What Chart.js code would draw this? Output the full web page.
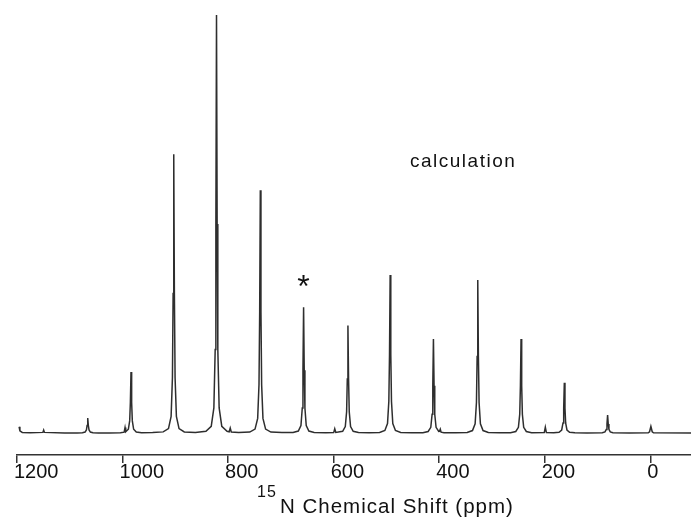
<!DOCTYPE html>
<html>
<head>
<meta charset="utf-8">
<style>
  html, body { margin: 0; padding: 0; background: #fff; }
  canvas { display: block; }
</style>
</head>
<body>
<canvas id="spectrum" width="691" height="523"></canvas>
<script src="https://cdn.jsdelivr.net/npm/chart.js@4.4.0/dist/chart.umd.min.js"></script>
<script>
// calculated 15N spectrum: chemical shift (ppm) and intensity, tallest sideband = 100
const shifts = [
  1196, 1194.5, 1190, 1175,
  1151, 1149.5, 1148, 1110,
  1086, 1076, 1071, 1068.5, 1067.2, 1066, 1064.8, 1063.5, 1061, 1056, 1046, 1025,
  1004, 997, 995.3, 994, 989, 986.5, 985.2, 984, 982.8, 981.5, 979, 974, 964, 943,
  923, 913, 908, 905.5, 904.2, 903, 901.8, 900.5, 898, 893, 883, 862,
  842, 832, 827, 824.5, 823.2, 822, 820.8, 819.5, 817, 812, 802, 798, 796, 794, 780,
  759, 749, 744, 741.5, 740.2, 739, 737.8, 736.5, 734, 729, 719, 698,
  677, 667, 662, 659.5, 658.2, 657, 655.8, 654.5, 652, 647, 637, 615, 600, 598, 596,
  583, 578, 575.5, 574.2, 573, 571.8, 570.5, 568, 563, 553, 533,
  513, 503, 498, 495.5, 494.2, 493, 491.8, 490.5, 488, 483, 473, 452,
  431, 421, 416, 413.5, 412.2, 411, 409.8, 408.5, 406, 401, 399.5, 398, 396.5, 391, 369,
  347, 337, 332, 329.5, 328.2, 327, 325.8, 324.5, 322, 317, 307, 286,
  265, 255, 250, 247.5, 246.2, 245, 243.8, 242.5, 240, 235, 225, 201, 199, 197,
  183, 173, 168, 165.5, 164.2, 163, 161.8, 160.5, 158, 153, 143, 120,
  91, 86, 83.5, 82.2, 81, 79.8, 78.5, 76, 71, 40,
  4, 1.5, -1, -3.5, -6, -77
];
const intensities = [
  1.5, 0.5, 0.15, 0.05,
  0.15, 0.7, 0.15, 0,
  0.02, 0.06, 0.22, 0.72, 1.8, 3.6, 1.8, 0.72, 0.22, 0.06, 0.02, 0.03,
  0.06, 0.2, 1.3, 0.3, 0.9, 2.9, 7.3, 14.6, 7.3, 2.9, 0.9, 0.23, 0.06, 0.1,
  0.27, 1.07, 4.0, 13.3, 33.4, 66.7, 33.4, 13.3, 4.0, 1.07, 0.27, 0.15,
  0.4, 1.6, 6, 20, 50, 100, 50, 20, 6, 1.6, 0.4, 0.3, 1.2, 0.25, 0.15,
  0.23, 0.93, 3.5, 11.6, 29, 58.1, 29, 11.6, 3.5, 0.93, 0.23, 0.1,
  0.12, 0.48, 1.8, 6.0, 15, 30.1, 15, 6.0, 1.8, 0.48, 0.12, 0.05, 0.1, 1.0, 0.12,
  0.41, 1.54, 5.1, 12.9, 25.7, 12.9, 5.1, 1.54, 0.41, 0.1, 0.06,
  0.15, 0.6, 2.27, 7.6, 18.9, 37.8, 18.9, 7.6, 2.27, 0.6, 0.15, 0.06,
  0.09, 0.36, 1.35, 4.5, 11.3, 22.5, 11.3, 4.5, 1.35, 0.36, 0.4, 0.9, 0.2, 0.09, 0.05,
  0.15, 0.59, 2.2, 7.3, 18.3, 36.6, 18.3, 7.3, 2.2, 0.59, 0.15, 0.05,
  0.09, 0.36, 1.35, 4.5, 11.3, 22.5, 11.3, 4.5, 1.35, 0.36, 0.09, 0.1, 1.4, 0.1,
  0.05, 0.19, 0.72, 2.4, 6, 12, 6, 2.4, 0.72, 0.19, 0.05, 0.02,
  0.07, 0.26, 0.86, 2.15, 4.3, 2.15, 0.86, 0.26, 0.07, 0.01,
  0.05, 0.3, 1.6, 0.3, 0.05, 0
];
const shiftTicks = [1200, 1000, 800, 600, 400, 200, 0];

// the sideband flagged with an asterisk
const markedShift = 657;
const markedIntensity = 30.1;

const fontFamily = '"Liberation Sans", Arial, sans-serif';

const textPlugin = {
  id: 'spectrumText',
  afterDraw(chart) {
    const ctx = chart.ctx;
    const xScale = chart.scales.x;
    const yScale = chart.scales.y;

    ctx.save();
    ctx.fillStyle = '#111';
    ctx.textBaseline = 'alphabetic';
    ctx.letterSpacing = '1.5px';

    ctx.font = '19px ' + fontFamily;
    ctx.textAlign = 'left';
    ctx.fillText('calculation', 410, 167);

    ctx.letterSpacing = '0px';
    ctx.font = '32px ' + fontFamily;
    ctx.textAlign = 'center';
    ctx.fillText('*', xScale.getPixelForValue(markedShift), yScale.getPixelForValue(markedIntensity) - 10);

    // axis title, mass number raised
    ctx.textAlign = 'left';
    ctx.letterSpacing = '1px';
    ctx.font = '16px ' + fontFamily;
    ctx.fillText('15', 257, 497);
    ctx.font = '20.5px ' + fontFamily;
    ctx.fillText('N Chemical Shift (ppm)', 280, 513);
    ctx.restore();
  }
};

init();

function init() {
  createChart();
}

function createChart() {
  const ctx = document.getElementById('spectrum').getContext('2d');

  const points = shifts.map((s, i) => ({ x: s, y: intensities[i] }));

  new Chart(ctx, {
    type: 'line',
    data: {
      datasets: [{
        data: points,
        borderColor: '#2e2e2e',
        borderWidth: 1.5,
        pointRadius: 0,
        tension: 0,
        fill: false,
      }]
    },
    options: {
      responsive: false,
      animation: false,
      layout: { padding: { left: 17, right: 0, top: 0, bottom: 0 } },
      plugins: {
        legend: { display: false },
        tooltip: { enabled: false },
      },
      scales: {
        x: {
          type: 'linear',
          reverse: true,
          min: -77,
          max: 1200,
          afterBuildTicks: function(scale) {
            scale.ticks = shiftTicks.map(v => ({ value: v }));
          },
          afterFit: function(scale) {
            scale.height = 68;
          },
          border: { color: '#333', width: 1.5 },
          grid: {
            drawOnChartArea: false,
            drawTicks: true,
            tickLength: 8,
            color: '#333',
            lineWidth: 1.5,
          },
          ticks: {
            align: 'start',
            labelOffset: -3,
            padding: -3,
            maxRotation: 0,
            autoSkip: false,
            color: '#111',
            font: { family: fontFamily, size: 20 },
            callback: function(value) {
              return String(value);
            },
          },
        },
        y: {
          display: false,
          min: -5.26,
          max: 103.6,
        },
      },
    },
    plugins: [textPlugin],
  });
}
</script>
</body>
</html>
